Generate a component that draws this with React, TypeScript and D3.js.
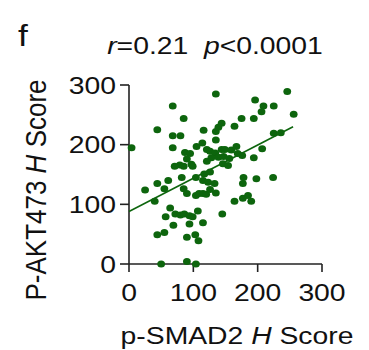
import { useEffect, useRef } from "react";
import * as d3 from "d3";

// p-SMAD2 H score (x) vs P-AKT473 H score (y)
const smad2 = [
  4, 135, 68, 85, 44, 68, 80, 68, 116, 135, 139, 144, 135, 164, 175, 196, 209, 206, 194, 225, 246, 256, 225, 236,
  87, 95, 90, 97, 79, 71, 105, 114,
  121, 126, 134, 128, 121, 139, 147, 144,
  149, 159, 167, 169, 176, 156, 146, 154, 194, 207,
  85, 99,
  61, 44, 55, 25, 40,
  82, 104, 117, 126, 115, 123, 133, 135,
  85, 90, 104, 109, 115, 120, 126,
  178, 177, 198, 224,
  164, 177, 185, 190,
  64, 72, 80, 86, 94, 99, 107, 94, 115, 57, 69, 145,
  44, 55, 90, 103, 108,
  50, 90, 104,
];
const akt = [
  195, 285, 265, 244, 225, 215, 215, 195, 224, 222, 229, 236, 208, 231, 244, 275, 265, 255, 244, 265, 289, 251, 219, 220,
  187, 185, 176, 167, 166, 164, 197, 203,
  192, 189, 186, 178, 172, 179, 180, 192,
  192, 191, 197, 185, 182, 177, 168, 165, 178, 193,
  164, 164,
  140, 135, 126, 124, 105,
  145, 145, 151, 154, 140, 137, 135, 119,
  126, 118, 115, 118, 118, 117, 125,
  145, 135, 143, 145,
  105, 110, 115, 105,
  94, 84, 82, 84, 81, 79, 89, 67, 69, 79, 65, 84,
  49, 53, 45, 49, 39,
  0, 4, 0,
];
// fitted regression line end points
const fitX = [0, 255];
const fitY = [88, 230];

const ticks = [0, 100, 200, 300];
const xTitle = "p-SMAD2 ";
const yTitle = "P-AKT473 ";

const GREEN = "#0d650d";
const SX = 1.18; // figure was stretched horizontally

export default function App() {
  const ref = useRef<SVGSVGElement>(null);

  useEffect(() => {
    document.body.style.margin = "0";
    if (!ref.current) return;
    const svg = d3.select(ref.current);
    svg.selectAll("*").remove();

    const x = d3.scaleLinear().domain([0, 300]).range([129, 322]);
    const y = d3.scaleLinear().domain([0, 300]).range([264, 85]);
    const font = "'Liberation Sans', Arial, sans-serif";

    const label = (tx: number, ty: number, size: number, anchor: string, rot = 0, sx = SX) =>
      svg.append("text")
        .attr("transform", `translate(${tx},${ty}) scale(${sx},1)${rot ? ` rotate(${rot})` : ""}`)
        .attr("font-family", font).attr("font-size", size)
        .attr("text-anchor", anchor).attr("fill", "#111")
        .style("white-space", "pre");

    // panel letter
    label(18, 46, 30, "start").text("f");

    // stats
    const st = label(215, 54, 24, "middle");
    st.append("tspan").attr("font-style", "italic").text("r");
    st.append("tspan").text("=0.21  ");
    st.append("tspan").attr("font-style", "italic").text("p");
    st.append("tspan").text("<0.0001");

    // axes
    const ax = svg.append("g").attr("stroke", "#222").attr("stroke-width", 1.6).attr("fill", "none");
    ax.append("line").attr("x1", x(0)).attr("x2", x(0)).attr("y1", y(300)).attr("y2", y(0));
    ax.append("line").attr("x1", x(0)).attr("x2", x(300)).attr("y1", y(0)).attr("y2", y(0));
    ticks.forEach(t => {
      ax.append("line").attr("x1", x(t)).attr("x2", x(t)).attr("y1", y(0)).attr("y2", y(0) + 8);
      ax.append("line").attr("x1", x(0) - 9).attr("x2", x(0)).attr("y1", y(t)).attr("y2", y(t));
      label(x(t), y(0) + 37, 24, "middle").text(String(t));
      label(x(0) - 13, y(t) + 8.5, 24, "end").text(String(t));
    });

    // axis titles
    const xt = label(237, 344, 24, "middle");
    xt.append("tspan").text(xTitle);
    xt.append("tspan").attr("font-style", "italic").text("H");
    xt.append("tspan").text(" Score");

    const yt = label(46, 190, 26, "middle", -90, 1.1);
    yt.append("tspan").text(yTitle);
    yt.append("tspan").attr("font-style", "italic").text("H");
    yt.append("tspan").text(" Score");

    // regression line
    svg.append("line")
      .attr("x1", x(fitX[0])).attr("y1", y(fitY[0]))
      .attr("x2", x(fitX[1])).attr("y2", y(fitY[1]))
      .attr("stroke", GREEN).attr("stroke-width", 1.6);

    // points
    svg.append("g").selectAll("ellipse").data(d3.range(smad2.length)).enter().append("ellipse")
      .attr("cx", i => x(smad2[i])).attr("cy", i => y(akt[i]))
      .attr("rx", 3.9).attr("ry", 3.5)
      .attr("fill", GREEN);
  }, []);

  return <svg ref={ref} width={369} height={350} style={{ display: "block", background: "#fff" }} />;
}
